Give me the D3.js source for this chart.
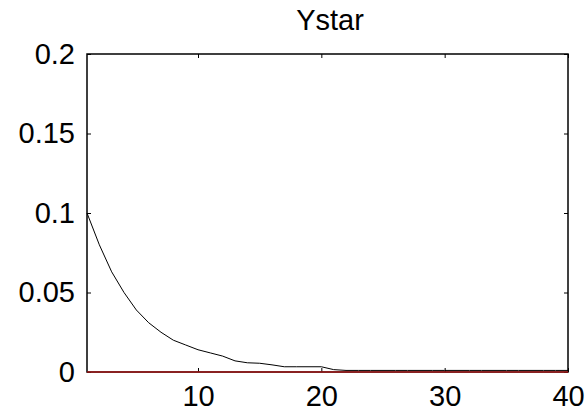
<!DOCTYPE html>
<html>
<head>
<meta charset="utf-8">
<script src="https://cdn.jsdelivr.net/npm/d3@7"></script>
<style>
  body { margin: 0; background: #fff; }
  text { font-family: "Liberation Sans", Arial, sans-serif; fill: #000; }
</style>
</head>
<body>
<svg id="chart" width="587" height="412"></svg>
<script>
'use strict';

const title = 'Ystar';
const steps = d3.range(1, 41);
const ystar = [
  0.100, 0.080, 0.063, 0.050, 0.039, 0.031, 0.025, 0.020, 0.017, 0.014,
  0.012, 0.010, 0.007, 0.0058, 0.0055, 0.0045, 0.0033, 0.0033, 0.0033, 0.0033,
  0.0015, 0.001, 0.001, 0.001, 0.001, 0.001, 0.001, 0.001, 0.001, 0.001,
  0.001, 0.001, 0.001, 0.001, 0.001, 0.001, 0.001, 0.001, 0.001, 0.001
];
const baseline = steps.map(() => 0);
const xTicks = [10, 20, 30, 40];
const yTicks = [0, 0.05, 0.1, 0.15, 0.2];

const svg = d3.select('#chart');
const margin = {left: 87, right: 19, top: 54, bottom: 40};
const width = 587, height = 412;
const fontSize = 29;

const x = d3.scaleLinear()
  .domain([1, 40])
  .range([margin.left, width - margin.right]);

const y = d3.scaleLinear()
  .domain([0, 0.2])
  .range([height - margin.bottom, margin.top]);

const fmt = d => d === 0 ? '0' : String(d);
const tick = 4;

// box first, so the series draw over it
svg.append('rect')
  .attr('x', x(1))
  .attr('y', y(0.2))
  .attr('width', x(40) - x(1))
  .attr('height', y(0) - y(0.2))
  .attr('fill', 'none')
  .attr('stroke', '#000')
  .attr('stroke-width', 1.5);

// bottom + top axes, ticks pointing inward
svg.append('g')
  .attr('transform', 'translate(0,' + y(0) + ')')
  .call(d3.axisBottom(x).tickValues(xTicks).tickSize(-tick).tickPadding(13).tickFormat(fmt))
  .call(g => g.select('.domain').remove())
  .call(g => g.selectAll('text').attr('font-size', fontSize).attr('font-family', null));

svg.append('g')
  .attr('transform', 'translate(0,' + y(0.2) + ')')
  .call(d3.axisTop(x).tickValues(xTicks).tickSize(-tick).tickFormat(''))
  .call(g => g.select('.domain').remove());

svg.append('g')
  .attr('transform', 'translate(' + x(1) + ',0)')
  .call(d3.axisLeft(y).tickValues(yTicks).tickSize(-tick).tickPadding(12).tickFormat(fmt))
  .call(g => g.select('.domain').remove())
  .call(g => g.selectAll('text').attr('font-size', fontSize).attr('font-family', null));

svg.append('g')
  .attr('transform', 'translate(' + x(40) + ',0)')
  .call(d3.axisRight(y).tickValues(yTicks).tickSize(-tick).tickFormat(''))
  .call(g => g.select('.domain').remove());

const line = d3.line()
  .x((d, i) => x(steps[i]))
  .y(d => y(d));

svg.append('path')
  .datum(ystar)
  .attr('fill', 'none')
  .attr('stroke', '#000')
  .attr('stroke-width', 1)
  .attr('d', line);

svg.append('path')
  .datum(baseline)
  .attr('fill', 'none')
  .attr('stroke', '#a31818')
  .attr('stroke-width', 1.5)
  .attr('d', line);

svg.append('text')
  .attr('x', 330)
  .attr('y', 30)
  .attr('text-anchor', 'middle')
  .attr('font-size', fontSize)
  .text(title);
</script>
</body>
</html>
